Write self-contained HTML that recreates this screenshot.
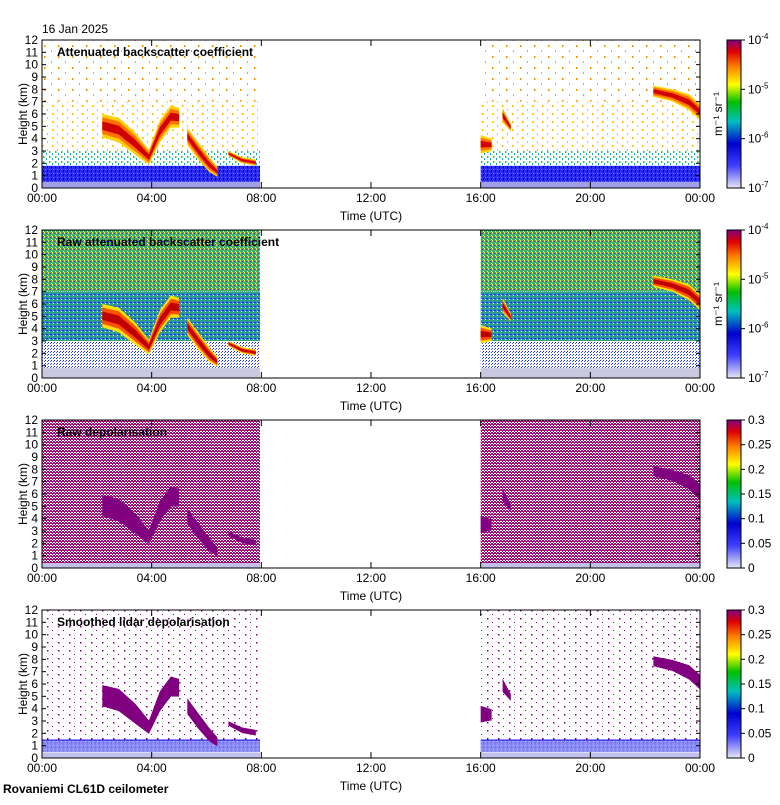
<!DOCTYPE html>
<html><head><meta charset="utf-8"><style>
body{margin:0;background:#fff;font-family:"Liberation Sans",sans-serif}
svg text{font-family:"Liberation Sans",sans-serif;font-size:12px;fill:#000}
</style></head><body>
<svg id="c" width="780" height="800" xmlns="http://www.w3.org/2000/svg">
<defs>
<pattern id="dotsO" width="14" height="11" patternUnits="userSpaceOnUse"><rect x="2" y="1" width="1.5" height="2" fill="#ff8c00"/><rect x="9" y="6" width="1" height="2" fill="#ffa500"/></pattern>
<pattern id="dotsY" width="10" height="8" patternUnits="userSpaceOnUse"><rect x="2" y="1" width="1.5" height="2" fill="#ffc000"/><rect x="7" y="5" width="1" height="2" fill="#c0e000"/></pattern>
<pattern id="dotsG" width="6" height="5" patternUnits="userSpaceOnUse"><rect x="1" y="1" width="1.5" height="2" fill="#22cc44"/><rect x="4" y="3" width="1" height="2" fill="#10a0c0"/></pattern>
<pattern id="blueN" width="4" height="4" patternUnits="userSpaceOnUse"><rect width="4" height="4" fill="#2a2af0"/><rect x="1" y="1" width="1" height="1" fill="#8080ff"/><rect x="3" y="2" width="1" height="2" fill="#0000c8"/></pattern>
<pattern id="raw" width="4" height="4" patternUnits="userSpaceOnUse"><rect width="4" height="4" fill="#40b060"/><rect x="0" y="0" width="1" height="2" fill="#e0e040"/><rect x="2" y="1" width="1" height="1" fill="#2040e0"/><rect x="3" y="3" width="1" height="1" fill="#fff"/></pattern>
<pattern id="rawM" width="4" height="4" patternUnits="userSpaceOnUse"><rect width="4" height="4" fill="#3090b0"/><rect x="0" y="0" width="1" height="1" fill="#30c040"/><rect x="2" y="2" width="2" height="1" fill="#2030e0"/><rect x="1" y="3" width="1" height="1" fill="#fff"/></pattern>
<pattern id="rawL" width="3" height="3" patternUnits="userSpaceOnUse"><rect width="3" height="3" fill="#fff"/><rect x="0" y="0" width="1" height="1" fill="#2020ff"/><rect x="2" y="1" width="1" height="1" fill="#3060ff"/></pattern>
<pattern id="dep" width="3" height="3" patternUnits="userSpaceOnUse"><rect width="3" height="3" fill="#8a0a8a"/><rect x="1" y="0" width="1" height="1" fill="#fff"/><rect x="0" y="2" width="1" height="1" fill="#fff"/><rect x="2" y="1" width="1" height="1" fill="#d02040"/><rect x="2" y="2" width="1" height="1" fill="#fff"/></pattern>
<pattern id="sdots" width="11" height="8" patternUnits="userSpaceOnUse"><rect x="3" y="2" width="1.5" height="1.5" fill="#800080"/><rect x="8" y="6" width="1" height="1" fill="#800080"/></pattern>
<linearGradient id="cb1" x1="0" y1="1" x2="0" y2="0"><stop offset="0" stop-color="#e8e8f4"/><stop offset="0.15" stop-color="#4040ff"/><stop offset="0.3" stop-color="#0000d0"/><stop offset="0.45" stop-color="#00c0c0"/><stop offset="0.58" stop-color="#00c000"/><stop offset="0.7" stop-color="#ffff00"/><stop offset="0.82" stop-color="#ff8000"/><stop offset="0.92" stop-color="#e00000"/><stop offset="1" stop-color="#800080"/></linearGradient>
</defs>
<g id="root"></g>
</svg>
<script>
const hourTicks=["00:00","04:00","08:00","12:00","16:00","20:00","00:00"];
const heightTicks=[0,1,2,3,4,5,6,7,8,9,10,11,12];
const panelTitles=["Attenuated backscatter coefficient","Raw attenuated backscatter coefficient","Raw depolarisation","Smoothed lidar depolarisation"];
const dataSpans=[[0,7.95],[16,24]];
const layerA_t=[2.2,2.8,3.4,3.9,4.3,4.7,5.0];
const layerA_top=[6.0,5.7,4.5,3.1,5.5,6.7,6.5];
const layerA_base=[4.1,3.7,2.7,1.9,3.7,4.9,4.9];
const layerB_t=[5.3,5.7,6.1,6.4];
const layerB_top=[4.9,3.7,2.5,1.7];
const layerB_base=[3.5,2.3,1.3,0.9];
const layerC_t=[6.8,7.3,7.8];
const layerC_top=[3.0,2.5,2.3];
const layerC_base=[2.6,2.0,1.8];
const layerD_t=[16.0,16.4];
const layerD_top=[4.3,4.0];
const layerD_base=[2.8,3.0];
const layerE_t=[16.8,17.1];
const layerE_top=[6.5,5.2];
const layerE_base=[5.3,4.6];
const layerF_t=[22.3,23.0,23.6,24.0];
const layerF_top=[8.3,8.0,7.6,6.8];
const layerF_base=[7.4,7.0,6.3,5.5];
const cbLog=["10-4","10-5","10-6","10-7"];
const cbDep=["0.3","0.25","0.2","0.15","0.1","0.05","0"];

const NS="http://www.w3.org/2000/svg";
const root=document.getElementById('root');
const X0=42,X1=700,H=148,tops=[40,230,420,610];
function sx(h){return X0+h*(X1-X0)/24;}
function mk(tag,attrs,parent){const e=document.createElementNS(NS,tag);for(const k in attrs)e.setAttribute(k,attrs[k]);(parent||root).appendChild(e);return e;}
function band(t,top,base,p,yf,fill,shrink){
  let pts=[];
  for(let i=0;i<t.length;i++){const d=(top[i]-base[i])*shrink;pts.push(sx(t[i])+','+yf(top[i]-d));}
  for(let i=t.length-1;i>=0;i--){const d=(top[i]-base[i])*shrink;pts.push(sx(t[i])+','+yf(base[i]+d));}
  const e=mk('polygon',{points:pts.join(' '),fill:fill},p);
  
  
}
const layers=[[layerA_t,layerA_top,layerA_base],[layerB_t,layerB_top,layerB_base],[layerC_t,layerC_top,layerC_base],[layerD_t,layerD_top,layerD_base],[layerE_t,layerE_top,layerE_base],[layerF_t,layerF_top,layerF_base]];

tops.forEach((T,pi)=>{
  const g=mk('g',{});
  
  
  const yf=v=>T+H-v*H/12;
  dataSpans.forEach(s=>{
    const x=sx(s[0]),w=sx(s[1])-sx(s[0]);
    function r(lo,hi,fill){mk('rect',{x:x,y:yf(hi),width:w,height:yf(lo)-yf(hi),fill:fill},g);}
    if(pi===0){r(7,12,'url(#dotsO)');r(3,7,'url(#dotsY)');r(1.5,3,'url(#dotsG)');r(0,1.8,'url(#blueN)');r(0,0.5,'#a0a0e8');}
    if(pi===1){r(7,12,'url(#raw)');r(3,7,'url(#rawM)');r(0,3,'url(#rawL)');r(0,0.8,'#c8c8e0');}
    if(pi===2){r(0,12,'url(#dep)');r(0,0.4,'#c0c0e8');}
    if(pi===3){r(1.5,12,'url(#sdots)');r(0.2,1.5,'url(#blueN)');r(0,0.5,'#c0c0ec');mk('rect',{x:x,y:yf(1.4),width:w,height:yf(0.4)-yf(1.4),fill:'#fff',opacity:0.45},g);}
  });
  layers.forEach(L=>{
    if(pi===0){band(L[0],L[1],L[2],g,yf,'#ffd000',0);band(L[0],L[1],L[2],g,yf,'#ff7000',0.15);band(L[0],L[1],L[2],g,yf,'#d00000',0.32);}
    else if(pi===1){band(L[0],L[1],L[2],g,yf,'#ffe000',0);band(L[0],L[1],L[2],g,yf,'#ff5000',0.15);band(L[0],L[1],L[2],g,yf,'#c00000',0.32);}
    else {band(L[0],L[1],L[2],g,yf,'#800080',0.05);}
  });
  const fr=mk('rect',{x:X0,y:T,width:X1-X0,height:H,fill:'none',stroke:'#000','stroke-width':1},g);
  
  heightTicks.forEach(v=>{
    mk('line',{x1:X0,x2:X0+4,y1:yf(v),y2:yf(v),stroke:'#000'},g);
    mk('line',{x1:X1,x2:X1-4,y1:yf(v),y2:yf(v),stroke:'#000'},g);
    const t=mk('text',{x:X0-4,y:yf(v)+4,'text-anchor':'end'},g);t.textContent=v;
    
  });
  hourTicks.forEach((lab,i)=>{
    const x=sx(i*4);
    mk('line',{x1:x,x2:x,y1:T+H,y2:T+H-6,stroke:'#000'},g);
    mk('line',{x1:x,x2:x,y1:T,y2:T+6,stroke:'#000'},g);
    const t=mk('text',{x:x,y:T+H+14,'text-anchor':'middle'},g);t.textContent=lab;
    
  });
  const xt=mk('text',{x:371,y:T+H+32,'text-anchor':'middle'},g);xt.textContent='Time (UTC)';
  
  const yt=mk('text',{x:0,y:0,'text-anchor':'middle',transform:`translate(27,${T+H/2}) rotate(-90)`},g);yt.textContent='Height (km)';
  
  const ti=mk('text',{x:X0+15,y:T+16,'font-weight':'bold','font-size':'12.5'},g);ti.textContent=panelTitles[pi];
  
  const cb=mk('rect',{x:727,y:T,width:14,height:H,fill:'url(#cb1)',stroke:'#000'},g);
  
  const labs=pi<2?cbLog:cbDep;
  labs.forEach((l,i)=>{
    const y=T+i*H/(labs.length-1);
    mk('line',{x1:741,x2:745,y1:y,y2:y,stroke:'#000'},g);
    const t=mk('text',{x:748,y:y+4},g);
    if(pi<2){t.textContent='10';const s=mk('tspan',{dy:-5,'font-size':'8'},t);s.textContent=l.slice(2);}
    else t.textContent=l;
    
  });
  if(pi<2){const u=mk('text',{x:0,y:0,'text-anchor':'middle',transform:`translate(722,${T+H/2}) rotate(-90)`,'font-size':'11'},g);u.textContent='m⁻¹ sr⁻¹';
    }
});
const d=mk('text',{x:42,y:33});d.textContent='16 Jan 2025';

const s=mk('text',{x:3,y:793,'font-weight':'bold'});s.textContent='Rovaniemi CL61D ceilometer';

</script>
</body></html>
